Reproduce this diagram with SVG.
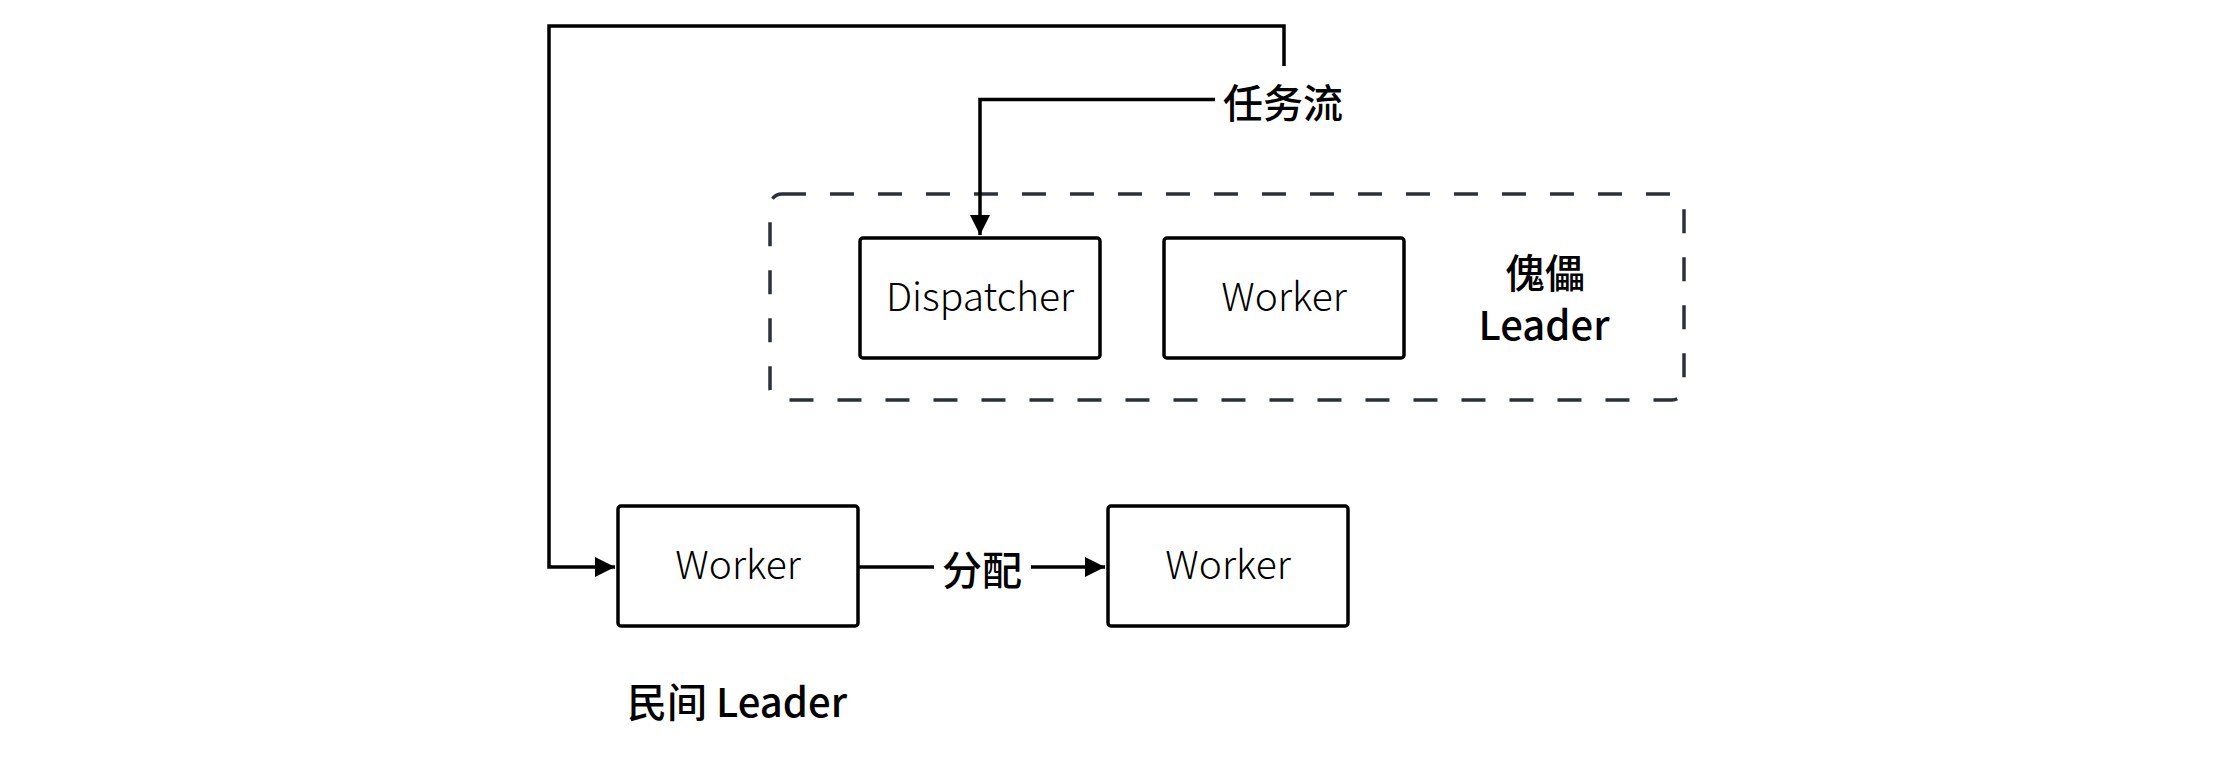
<svg xmlns="http://www.w3.org/2000/svg" width="2232" height="760" viewBox="0 0 2232 760">
<style>
.box{fill:#ffffff;stroke:#000000;stroke-width:3.5}
.grp{fill:none;stroke:#2b303b;stroke-width:3.5;stroke-dasharray:24 24}
.line{fill:none;stroke:#000000;stroke-width:3.5}
.nt{font-family:"Noto Sans CJK SC","Noto Sans",sans-serif;font-size:39px;font-weight:300;fill:#000000;text-anchor:middle}
.lb{font-family:"Noto Sans CJK SC","Noto Sans",sans-serif;font-size:40px;font-weight:500;fill:#000000;text-anchor:middle}
</style>
<defs>
<marker id="arr" markerUnits="userSpaceOnUse" markerWidth="20" markerHeight="20" refX="18" refY="9" orient="auto" viewBox="0 0 18 18">
<path d="M0,0 L18,9 L0,18 Z" fill="#000000"/>
</marker>
</defs>
<rect id="puppet-group" class="grp" x="770" y="194" width="914" height="206" rx="12" ry="12"/>
<g id="connectors">
<path class="line" d="M1284,66 L1284,26 L549,26 L549,567 L615,567" marker-end="url(#arr)"/>
<path class="line" d="M1215,99.5 L980,99.5 L980,235" marker-end="url(#arr)"/>
<path class="line" d="M858,567 L934,567"/>
<path class="line" d="M1031,567 L1105,567" marker-end="url(#arr)"/>
</g>
<g id="dispatcher">
<rect class="box" x="860" y="238" width="240" height="120" rx="3"/>
<text class="nt" x="980" y="311">Dispatcher</text>
</g>
<g id="worker-puppet">
<rect class="box" x="1164" y="238" width="240" height="120" rx="3"/>
<text class="nt" x="1284" y="311">Worker</text>
</g>
<g id="worker-civil">
<rect class="box" x="618" y="506" width="240" height="120" rx="3"/>
<text class="nt" x="738" y="579">Worker</text>
</g>
<g id="worker-target">
<rect class="box" x="1108" y="506" width="240" height="120" rx="3"/>
<text class="nt" x="1228" y="579">Worker</text>
</g>
<g id="label-taskflow">
<text class="lb" x="1283" y="100.5" dominant-baseline="central">任务流</text>
</g>
<g id="label-assign">
<text class="lb" x="982" y="567.5" dominant-baseline="central">分配</text>
</g>
<g id="label-puppet">
<text class="lb" x="1545" y="270.5" dominant-baseline="central">傀儡</text>
<text class="lb" x="1544" y="340">Leader</text>
</g>
<g id="label-civil">
<text class="lb" x="737" y="717">民间 Leader</text>
</g>
</svg>
